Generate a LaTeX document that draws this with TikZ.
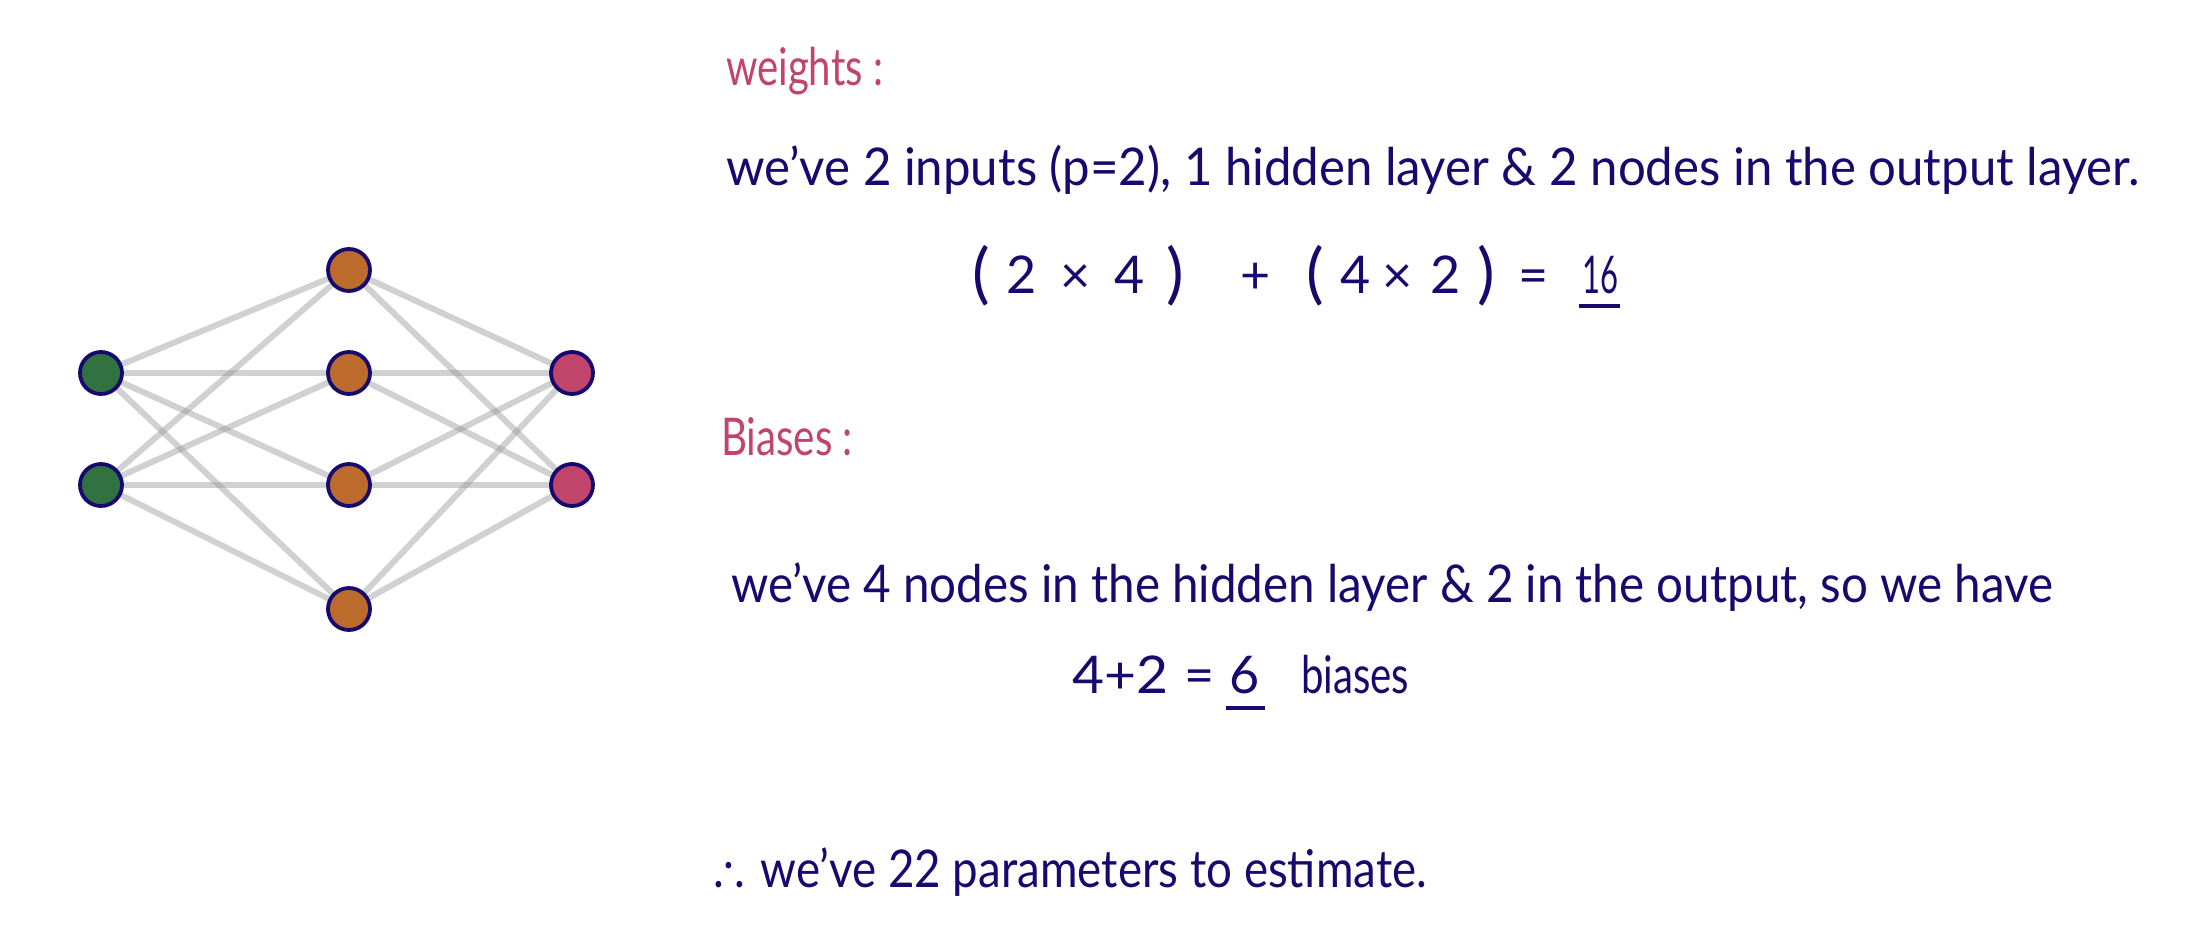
\documentclass[tikz,border=0pt]{standalone}
\usepackage{fontspec}
\usepackage{graphicx}
\setmainfont{Lato}
\usetikzlibrary{backgrounds}
\definecolor{navy}{HTML}{170A6E}
\definecolor{pinkh}{HTML}{C0446C}
\definecolor{ngreen}{HTML}{327241}
\definecolor{norange}{HTML}{BD6B2C}
\definecolor{npink}{HTML}{C0446C}
\newcommand{\fitw}[2]{\resizebox{#1}{\height}{#2}}
\tikzset{
  neuron/.style={circle,draw=navy,line width=3.8pt,minimum size=42pt,inner sep=0pt},
  inp/.style={neuron,fill=ngreen},
  hid/.style={neuron,fill=norange},
  outp/.style={neuron,fill=npink},
  edge/.style={draw=black!40,opacity=0.45,line width=6pt},
  txt/.style={anchor=base west,inner sep=0pt,outer sep=0pt,text=navy,font=\fontsize{52}{60}\selectfont},
  head/.style={txt,text=pinkh},
  par/.style={txt,font=\fontsize{66}{70}\fontseries{l}\selectfont},
  uline/.style={draw=navy,line width=4pt}
}
\begin{document}
\begin{tikzpicture}[x=1pt,y=-1pt]
\useasboundingbox (0,0) rectangle (2205,937);
% nodes
\node[inp] (i1) at (101,373) {};
\node[inp] (i2) at (101,485) {};
\node[hid] (h1) at (349,270) {};
\node[hid] (h2) at (349,373) {};
\node[hid] (h3) at (349,485) {};
\node[hid] (h4) at (349,609) {};
\node[outp] (o1) at (572,373) {};
\node[outp] (o2) at (572,485) {};
\begin{scope}[on background layer]
\fill[white] (0,0) rectangle (2205,937);
\foreach \a in {i1,i2}{\foreach \b in {h1,h2,h3,h4}{\draw[edge] (\a.center) -- (\b.center);}}
\foreach \a in {h1,h2,h3,h4}{\foreach \b in {o1,o2}{\draw[edge] (\a.center) -- (\b.center);}}
\end{scope}
% texts
\node[head] (t1) at (726,85) {\fitw{157pt}{weights :}};
\node[txt] (t2) at (726,185) {\fitw{1414pt}{we've 2 inputs (p=2), 1 hidden layer \& 2 nodes in the output layer.}};
% equation
\node[par] (e1) at (972,296) {(};
\node[txt] (e2) at (1006,293) {2};
\node[txt] (e3) at (1060,293) {×};
\node[txt] (e4) at (1114,293) {4};
\node[par] (e5) at (1166,296) {)};
\node[txt] (e6) at (1240,293) {+};
\node[par] (e7) at (1306,296) {(};
\node[txt] (e8) at (1340,293) {4};
\node[txt] (e9) at (1382,293) {×};
\node[txt] (e10) at (1430,293) {2};
\node[par] (e11) at (1477,296) {)};
\node[txt] (e12) at (1518,293) {=};
\node[txt] (e13) at (1582,293) {\fitw{36pt}{16}};
\coordinate (u1a) at (1579,306);
\coordinate (u1b) at (1620,306);
\draw[uline] (u1a) -- (u1b);
\node[head] (t4) at (721,455) {\fitw{132pt}{Biases :}};
\node[txt] (t5) at (731,602) {\fitw{1322pt}{we've 4 nodes in the hidden layer \& 2 in the output, so we have}};
\node[txt] (t6a) at (1072,693) {\fitw{96pt}{4+2}};
\node[txt] (t6b) at (1184,693) {=};
\node[txt] (t6c) at (1229,693) {6};
\node[txt] (t6d) at (1301,693) {\fitw{108pt}{biases}};
\coordinate (u2a) at (1226,708);
\coordinate (u2b) at (1265,708);
\draw[uline] (u2a) -- (u2b);
\node[txt] (t7) at (713,887) {\fitw{714pt}{.\raisebox{0.35em}{.}. we've 22 parameters to estimate.}};
\end{tikzpicture}
\end{document}
